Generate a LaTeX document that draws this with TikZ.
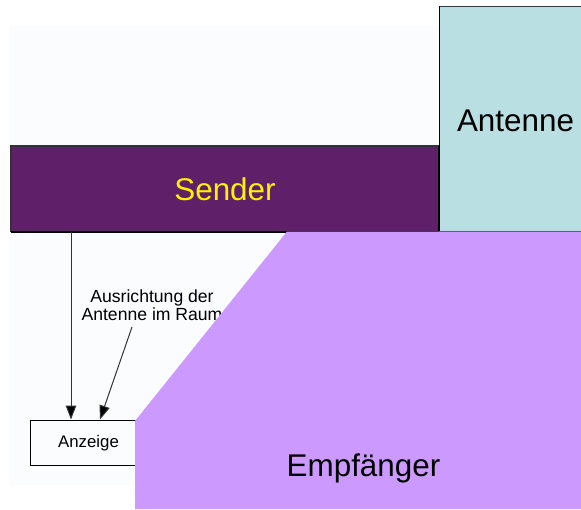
\documentclass[tikz,border=0pt]{standalone}
\usepackage{fontspec}
\setmainfont{Liberation Sans}
\usetikzlibrary{arrows.meta}
\definecolor{pale}{HTML}{FBFCFE}
\definecolor{senderfill}{HTML}{5F1F69}
\definecolor{antfill}{HTML}{BADFE2}
\definecolor{empfill}{HTML}{CC99FF}
\definecolor{linegray}{HTML}{333333}
\tikzset{
  big/.style={font=\fontsize{31.4}{34}\selectfont,inner sep=0pt},
  small/.style={font=\fontsize{16.8}{17.6}\selectfont,inner sep=0pt,align=center},
  labeltext/.style={font=\fontsize{17.6}{18}\selectfont,inner sep=0pt,align=center},
  conn/.style={draw=linegray,line width=1pt,-{Triangle[length=14pt,width=10.5pt,fill=black]}},
  box/.style={rectangle,inner sep=0pt,outer sep=0pt,anchor=north west}
}
\begin{document}
\begin{tikzpicture}[x=1pt,y=-1pt]
\useasboundingbox (0,0) rectangle (581,509);
\fill[white] (0,0) rectangle (581,509);
\fill[pale] (9,26) rectangle (440,485);
% Anzeige
\node[box,draw=black,line width=0.9pt,fill=pale,minimum width=110pt,minimum height=44.5pt] (anz) at (30.5,420.7) {};
\node[small] (anztext) at (88.5,443.5) {Anzeige};
% label
\node[labeltext] (lab) at (152,305) {Ausrichtung der\\Antenne im Raum};
% Sender
\node[box,fill=senderfill,draw=linegray,line width=1.2pt,minimum width=428pt,minimum height=85.5pt] (sender) at (11,146) {};
\draw[black,line width=2pt] (sender.south west) -- (sender.south east) -- (sender.north east);
\node[big,text=yellow] (sendertext) at (225,189) {Sender};
% Antenne
\node[box,fill=antfill,minimum width=142pt,minimum height=225pt] (ant) at (439,6) {};
\draw[linegray,line width=0.8pt] (ant.north east) -- (ant.north west);
\draw[black,line width=0.9pt] (ant.north west) -- (ant.south west);
\draw[linegray,line width=0.8pt] (ant.south west) -- (ant.south east);
\node[big] (anttext) at (515.5,121) {Antenne};
% connectors
\coordinate (c1s) at (71,232);
\coordinate (c1e) at (71,419.5);
\coordinate (c2s) at (132,327);
\coordinate (c2e) at (100,419.5);
\draw[conn] (c1s) -- (c1e);
\draw[conn] (c2s) -- (c2e);
% Empfaenger
\fill[empfill] (287,231.5) -- (581,231.5) -- (581,509) -- (135,509) -- (135,421) -- cycle;
\node[big] (emptext) at (363.5,468.5) {Empfänger};
\end{tikzpicture}
\end{document}
